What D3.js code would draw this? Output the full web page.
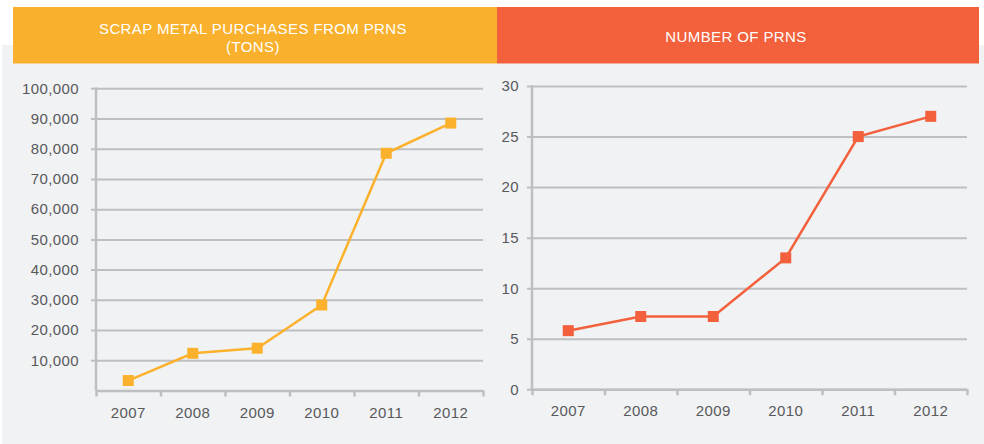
<!DOCTYPE html>
<html>
<head>
<meta charset="utf-8">
<script src="https://cdn.jsdelivr.net/npm/d3@7"></script>
<style>
  body { margin: 0; background: #fff; }
  svg { display: block; font-family: "Liberation Sans", Arial, sans-serif; letter-spacing: 0.4px; }
</style>
</head>
<body>
<div id="frame_div"></div>
<script>
// chart data
const years = ["2007", "2008", "2009", "2010", "2011", "2012"];
const tons = [3300, 12300, 14000, 28300, 78500, 88500];
const prns = [5.8, 7.2, 7.2, 13, 25, 27];
const tonTicks = [10000, 20000, 30000, 40000, 50000, 60000, 70000, 80000, 90000, 100000];
const prnTicks = [0, 5, 10, 15, 20, 25, 30];

const FRAME_WIDTH = 984;
const FRAME_HEIGHT = 444;
const GRID = "#bebfc1";
const TEXT = "#58595b";

const FRAME = d3.select("#frame_div")
  .append("svg")
    .attr("width", FRAME_WIDTH)
    .attr("height", FRAME_HEIGHT);

// grey panel behind both charts
FRAME.append("rect")
  .attr("x", 2).attr("y", 45)
  .attr("width", FRAME_WIDTH - 2).attr("height", FRAME_HEIGHT - 45)
  .attr("fill", "#f1f2f4");

// header bars
const headers = [
  {x: 13, w: 484, fill: "#f9b02c", lines: ["SCRAP METAL PURCHASES FROM PRNS", "(TONS)"], y0: 34.3},
  {x: 497, w: 482, fill: "#f2603c", lines: ["NUMBER OF PRNS"], y0: 41.7}
];
headers.forEach(h => {
  FRAME.append("rect")
    .attr("x", h.x).attr("y", 7)
    .attr("width", h.w).attr("height", 56.5)
    .attr("fill", h.fill);
  h.lines.forEach((t, i) => {
    FRAME.append("text")
      .attr("x", h.x + h.w / 2 - 2)
      .attr("y", h.y0 + i * 17.7)
      .attr("text-anchor", "middle")
      .attr("fill", "#fff")
      .attr("font-size", 15)
      .text(t);
  });
});

function drawChart(opts) {
  const g = FRAME.append("g");
  const Y_SCALE = d3.scaleLinear().domain(opts.domain).range([opts.bottom, opts.top]);
  const X_BAND = d3.scaleBand().domain(years).range([opts.left, opts.right]);
  const X_EDGE = d3.scaleLinear().domain([0, years.length]).range([opts.left, opts.right]);
  const w = opts.right - opts.left;

  // horizontal grid + y labels
  const yAxis = g.append("g")
    .attr("transform", `translate(${opts.left - 5},0)`)
    .call(d3.axisLeft(Y_SCALE)
      .tickValues(opts.ticks)
      .tickSizeInner(-(w + 5))
      .tickSizeOuter(0)
      .tickPadding(opts.pad)
      .tickFormat(opts.fmt));
  yAxis.select(".domain").remove();
  yAxis.selectAll("line").attr("stroke", GRID).attr("stroke-width", 2);
  yAxis.selectAll("text").attr("fill", TEXT).attr("font-size", 15);

  // baseline x axis with tick marks at band edges
  const xAxis = g.append("g")
    .attr("transform", `translate(0,${opts.bottom})`)
    .call(d3.axisBottom(X_EDGE)
      .tickValues(d3.range(years.length + 1))
      .tickSizeInner(6)
      .tickSizeOuter(0)
      .tickFormat(""));
  xAxis.select(".domain").attr("stroke", GRID).attr("stroke-width", 2.5);
  xAxis.selectAll("line").attr("stroke", GRID).attr("stroke-width", 2.5);

  // year labels
  const xLabels = g.append("g")
    .attr("transform", `translate(0,${opts.bottom})`)
    .call(d3.axisBottom(X_BAND).tickSize(0).tickPadding(opts.xpad));
  xLabels.select(".domain").remove();
  xLabels.selectAll("text").attr("fill", TEXT).attr("font-size", 15);

  // vertical axis line
  g.append("line")
    .attr("x1", opts.left).attr("x2", opts.left)
    .attr("y1", opts.top - 1).attr("y2", opts.bottom)
    .attr("stroke", GRID).attr("stroke-width", 2.5);

  // series line
  const line = d3.line()
    .x((d, i) => X_BAND(years[i]) + X_BAND.bandwidth() / 2)
    .y(d => Y_SCALE(d));
  g.append("path")
    .datum(opts.values)
    .attr("d", line)
    .attr("fill", "none")
    .attr("stroke", opts.color)
    .attr("stroke-width", 2.5);

  g.selectAll("points")
    .data(opts.values)
    .enter()
    .append("rect")
      .attr("x", (d, i) => X_BAND(years[i]) + X_BAND.bandwidth() / 2 - 5.5)
      .attr("y", d => Y_SCALE(d) - 5.5)
      .attr("width", 11)
      .attr("height", 11)
      .attr("fill", opts.color);
}

drawChart({
  values: tons, domain: [0, 100000], ticks: tonTicks,
  fmt: d3.format(","), left: 96, right: 483, top: 88.3, bottom: 390.5,
  pad: 12, xpad: 16.5, color: "#fbb12c"
});

drawChart({
  values: prns, domain: [0, 30], ticks: prnTicks,
  fmt: d3.format("d"), left: 532, right: 967, top: 86, bottom: 389.3,
  pad: 8, xpad: 16.5, color: "#f2603c"
});
</script>
</body>
</html>
